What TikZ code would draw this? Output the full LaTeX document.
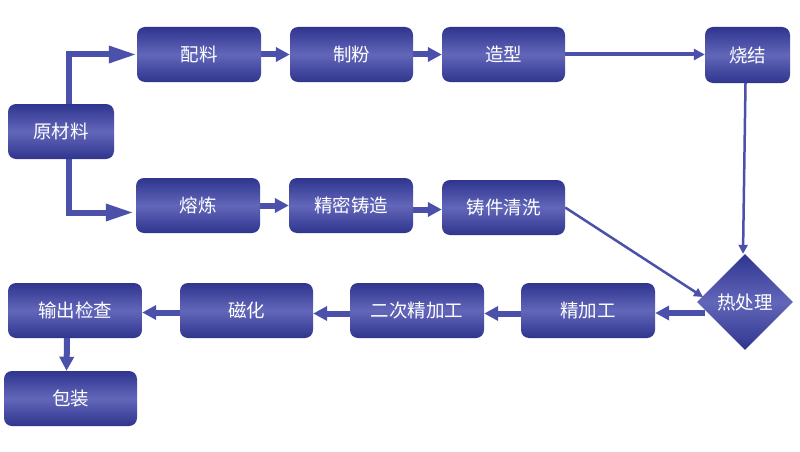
\documentclass[tikz,border=0pt]{standalone}
\usepackage{fontspec}
\setmainfont{Noto Sans CJK SC}
\usetikzlibrary{shapes.geometric,arrows.meta,calc}
\definecolor{boxdark}{HTML}{2F348E}
\definecolor{boxmid}{HTML}{6267BA}
\definecolor{arr}{HTML}{4B50AA}
\pgfdeclarelayer{bg}
\pgfsetlayers{bg,main}
\begin{document}
\begin{tikzpicture}[x=1pt,y=-1pt,
  box/.style={rectangle,rounded corners=8pt,top color=boxdark,bottom color=boxdark,middle color=boxmid,
    draw=none,text=white,font=\fontsize{18.5}{22}\selectfont,minimum height=55pt,inner sep=0pt},
  dia/.style={diamond,top color=boxdark,bottom color=boxdark,middle color=boxmid,
    draw=none,text=white,font=\fontsize{18.5}{22}\selectfont,minimum width=96pt,minimum height=96pt,inner sep=0pt},
  bigarr/.style={draw=arr,line width=6pt,line join=miter,-{Triangle[length=28pt,width=16pt]}},
  blk/.style={draw=arr,line width=6pt,-{Triangle[length=14pt,width=14pt]}},
  thinarr/.style={draw=arr,line width=4pt,-{Triangle[length=11pt,width=11pt]}},
  linearr/.style={draw=arr,line width=2.5pt,-{Triangle[length=9pt,width=9pt]}}]
\useasboundingbox (0,0) rectangle (800,452);
\node[box,minimum width=106pt] (ycl) at (61,131.5) {原材料};
\node[box,minimum width=124pt] (pl) at (199,54.5) {配料};
\node[box,minimum width=123pt] (zf) at (351.5,54.5) {制粉};
\node[box,minimum width=123pt] (zx) at (503.5,54.5) {造型};
\node[box,minimum width=85pt,minimum height=56pt] (sj) at (747.5,55) {烧结};
\node[box,minimum width=124pt] (rl) at (198,205.5) {熔炼};
\node[box,minimum width=124pt] (jm) at (351,205.5) {精密铸造};
\node[box,minimum width=123pt] (zj) at (503.5,207.5) {铸件清洗};
\node[dia] (rcl) at (745,302) {热处理};
\node[box,minimum width=134pt] (jjg) at (588,310.5) {精加工};
\node[box,minimum width=134pt] (ecj) at (417,310.5) {二次精加工};
\node[box,minimum width=133pt] (ch) at (246.5,310.5) {磁化};
\node[box,minimum width=134pt] (sc) at (75,310.5) {输出检查};
\node[box,minimum width=133pt] (bz) at (70.5,398.5) {包装};
\coordinate (diaend) at (703,297);
\coordinate (diastart) at (705,313);
\begin{pgfonlayer}{bg}
\fill[white] (0,0) rectangle (800,452);
\draw[bigarr] ($(ycl.north)+(8,0)$) |- (pl.west);
\draw[bigarr] ($(ycl.south)+(8,0)$) |- ($(rl.west)+(-2,7)$);
\draw[blk] (pl.east) -- (zf.west);
\draw[blk] (zf.east) -- (zx.west);
\draw[blk] (rl.east) -- (jm.west |- rl.east);
\draw[blk] ($(jm.east)+(0,4)$) -- ($(zj.west)+(0,2)$);
\draw[thinarr] (zx.east) -- (sj.west |- zx.east);
\draw[linearr] ($(sj.south)+(-2,0)$) -- ($(rcl.north)+(-2,0)$);
\draw[linearr] (zj.east) -- (diaend);
\draw[blk] (diastart) -- (jjg.east |- diastart);
\draw[blk] ($(jjg.west)+(0,3)$) -- ($(ecj.east)+(0,3)$);
\draw[blk] ($(ecj.west)+(0,3)$) -- ($(ch.east)+(0,3)$);
\draw[blk] ($(ch.west)+(0,2)$) -- ($(sc.east)+(0,2)$);
\draw[blk] ($(sc.south)+(-8,0)$) -- ($(bz.north)+(-4,0)$);
\end{pgfonlayer}
\end{tikzpicture}
\end{document}
